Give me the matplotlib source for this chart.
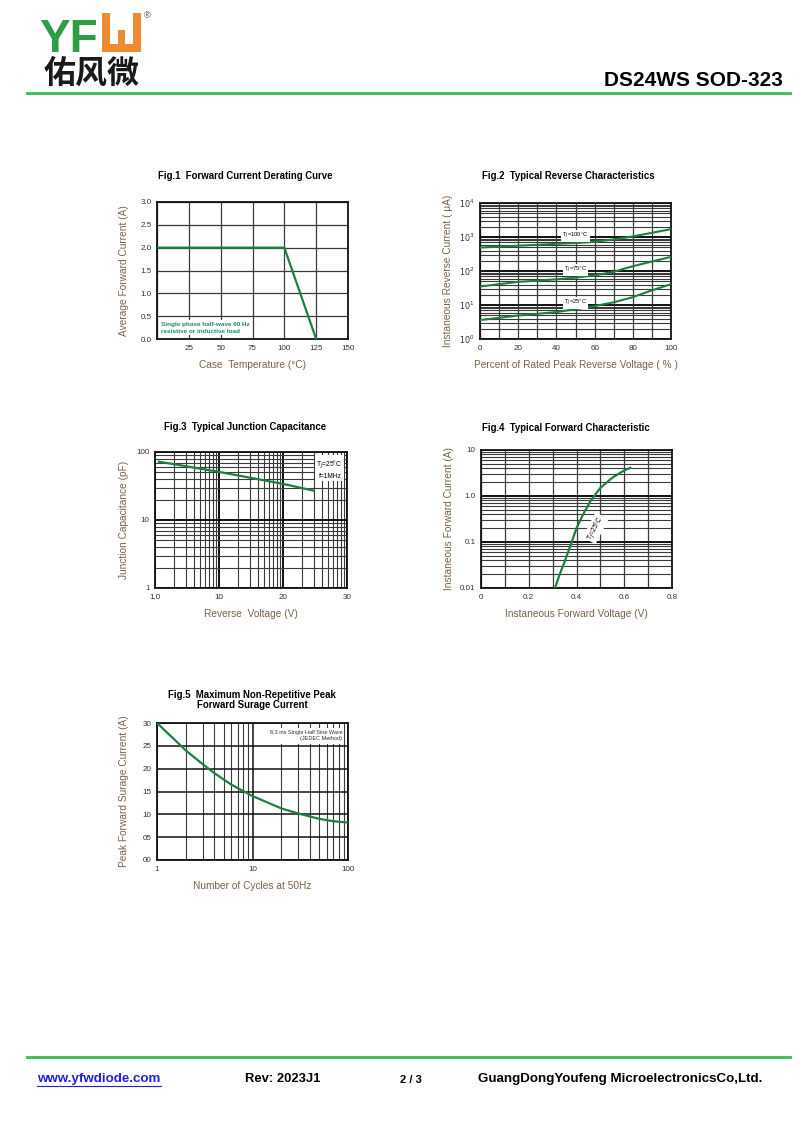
import numpy as np
import matplotlib
matplotlib.use('Agg')
import matplotlib.pyplot as plt
from matplotlib.patches import Rectangle
from matplotlib.ticker import FixedLocator, NullFormatter

plt.rcParams['font.family'] = ['Liberation Sans', 'DejaVu Sans']

GREEN = '#1d7f40'
LABEL = '#7a6248'
GRID = '#3a3a3a'

# Fig.1 data
fig1_temp = [0, 100, 125]
fig1_current = [2.0, 2.0, 0.0]

# Fig.2 data
fig2_pct = [0, 10, 20, 30, 40, 50, 60, 70, 80, 90, 100]
fig2_100c = [490, 520, 555, 590, 630, 665, 720, 850, 1040, 1330, 1700]
fig2_75c = [35, 41, 48, 52, 57, 64, 74, 95, 138, 190, 260]
fig2_25c = [3.6, 4.2, 4.9, 5.5, 6.2, 7.5, 9.3, 12, 17, 27, 41]

# Fig.3 data (x in axis units: decades labelled 1.0, 10, 20, 30)
fig3_x = [1.15, 3, 10, 30, 100, 300]
fig3_cap = [72, 62, 51, 42, 34, 27]
fig3_ticks = [1, 10, 100, 1000]
fig3_ticklabels = ['1.0', '10', '20', '30']

# Fig.4 data
fig4_v = [0.31, 0.33, 0.35, 0.38, 0.40, 0.43, 0.46, 0.50, 0.55, 0.60, 0.625]
fig4_i = [0.01, 0.02, 0.037, 0.10, 0.20, 0.42, 0.80, 1.5, 2.5, 3.6, 4.1]

# Fig.5 data
fig5_cycles = [1, 1.5, 2, 3, 4, 6, 10, 20, 30, 50, 70, 100]
fig5_current = [30, 26.5, 24, 21, 19, 16.5, 14, 11.3, 10.2, 9, 8.5, 8.2]
fig5_yticks = [0, 5, 10, 15, 20, 25, 30]
fig5_yticklabels = ['00', '05', '10', '15', '20', '25', '30']

W, H = 800, 1130
fig = plt.figure(figsize=(8, 11.3), dpi=100)


def px_axes(left, top, right, bottom):
    return fig.add_axes([left / W, 1 - bottom / H, (right - left) / W, (bottom - top) / H])


def px_rect(x0, y0, x1, y1, color):
    # rectangle given in pixel coordinates from top-left
    fig.add_artist(Rectangle((x0 / W, 1 - y1 / H), (x1 - x0) / W, (y1 - y0) / H,
                             transform=fig.transFigure, facecolor=color, edgecolor='none'))


def style(ax, xlabel, ylabel, ypad=6):
    ax.set_xlabel(xlabel, fontsize=7.3, color=LABEL, labelpad=6)
    ax.set_ylabel(ylabel, fontsize=7.3, color=LABEL, labelpad=ypad)
    ax.tick_params(labelsize=5.8, colors='#333333', length=0, pad=4)
    for s in ax.spines.values():
        s.set_linewidth(1.3)
        s.set_color('#111111')


def title(x, y, txt):
    fig.text(x / W, 1 - y / H, txt, fontsize=6.9, fontweight='bold',
             ha='center', va='center', linespacing=1.0)


# ---- header ----
fig.text(39 / W, 1 - 52 / H, 'YF', fontsize=33, fontweight='bold', color='#2c9e45',
         va='baseline', ha='left')
# stylised orange "W" of the logo
ORANGE = '#ee8a32'
px_rect(102, 13, 110, 52, ORANGE)
px_rect(133, 13, 141, 52, ORANGE)
px_rect(102, 44, 141, 52, ORANGE)
px_rect(118, 30, 125, 52, ORANGE)
fig.text(147 / W, 1 - 16 / H, '®', fontsize=6.5, color='#333333', va='center', ha='center')
fig.text(44 / W, 1 - 74 / H, '佑风微', fontsize=23, color='#1a1a1a', va='center',
         fontweight='bold', family=['Noto Sans CJK SC', 'DejaVu Sans'])
fig.text(783 / W, 1 - 80 / H, 'DS24WS SOD-323', fontsize=15, fontweight='bold',
         ha='right', va='center')
fig.add_artist(plt.Line2D([27 / W, 790 / W], [1 - 93 / H, 1 - 93 / H], color='#3cb95a', lw=2))

# ---- footer ----
fig.add_artist(plt.Line2D([27 / W, 790 / W], [1 - 1057 / H, 1 - 1057 / H], color='#3cb95a', lw=2))
fig.text(37 / W, 1 - 1079 / H, 'www.yfwdiode.com', fontsize=9.6, fontweight='bold',
         color='#2020e0', va='center')
fig.add_artist(plt.Line2D([37 / W, 161 / W], [1 - 1086 / H, 1 - 1086 / H], color='#2020e0', lw=0.8))
fig.text(245 / W, 1 - 1079 / H, 'Rev: 2023J1', fontsize=9.4, fontweight='bold', va='center')
fig.text(400 / W, 1 - 1080 / H, '2 / 3', fontsize=8, fontweight='bold', va='center')
fig.text(478 / W, 1 - 1079 / H, 'GuangDongYoufeng MicroelectronicsCo,Ltd.', fontsize=9.6,
         fontweight='bold', va='center')

# ---- Fig.1 ----
ax = px_axes(157, 202, 348, 339)
ax.plot(fig1_temp, fig1_current, color=GREEN, lw=1.6, zorder=3)
ax.set_xlim(0, 150)
ax.set_ylim(0, 3)
ax.set_xticks([0, 25, 50, 75, 100, 125, 150])
ax.set_xticklabels(['', '25', '50', '75', '100', '125', '150'])
ax.set_yticks(np.arange(0, 3.01, 0.5))
ax.set_yticklabels(['0.0', '0.5', '1.0', '1.5', '2.0', '2.5', '3.0'])
ax.grid(True, color=GRID, lw=0.9)
ax.text(3, 0.38, 'Single phase half-wave 60 Hz\nresistive or inductive load', fontsize=4.6,
        color='#1f8a6a', fontweight='bold', va='top', linespacing=1.5,
        bbox=dict(facecolor='white', edgecolor='none', pad=1), zorder=4)
style(ax, 'Case  Temperature (°C)', 'Average Forward Current (A)', ypad=8)
title(245, 176, 'Fig.1  Forward Current Derating Curve')

# ---- Fig.2 ----
ax = px_axes(480, 203, 671, 339)
ax.set_yscale('log')
ax.set_xlim(0, 100)
ax.set_ylim(1, 1e4)
for y in (fig2_100c, fig2_75c, fig2_25c):
    ax.plot(fig2_pct, y, color=GREEN, lw=1.5, zorder=3)
ax.set_xticks(range(0, 101, 20))
ax.set_xticks(range(0, 101, 10), minor=True)
ax.set_yticks([1, 10, 100, 1000, 10000])
ax.set_yticklabels(['$10^0$', '$10^1$', '$10^2$', '$10^3$', '$10^4$'])
ax.yaxis.set_minor_locator(FixedLocator([m * 10 ** d for d in range(4) for m in range(2, 10)]))
ax.yaxis.set_minor_formatter(NullFormatter())
ax.grid(True, which='major', axis='y', color='#111111', lw=1.4)
ax.grid(True, which='minor', axis='y', color=GRID, lw=0.8)
ax.grid(True, which='both', axis='x', color=GRID, lw=0.9)
ax.tick_params(which='minor', length=0)
for lab, yy in [('T$_J$=100°C', 1050), ('T$_J$=75°C', 110), ('T$_J$=25°C', 11.5)]:
    ax.text(50, yy, lab, fontsize=4.2, ha='center', va='center', zorder=4,
            bbox=dict(facecolor='white', edgecolor='none', pad=0.6))
style(ax, 'Percent of Rated Peak Reverse Voltage ( % )', 'Instaneous Reverse Current ( μA)', ypad=4)
title(568, 176, 'Fig.2  Typical Reverse Characteristics')

# ---- Fig.3 ----
ax = px_axes(155, 452, 347, 588)
ax.set_xscale('log')
ax.set_yscale('log')
ax.set_xlim(1, 1000)
ax.set_ylim(1, 100)
ax.plot(fig3_x, fig3_cap, color=GREEN, lw=1.6, zorder=3)
ax.set_xticks(fig3_ticks)
ax.set_xticklabels(fig3_ticklabels)
ax.xaxis.set_minor_locator(FixedLocator([m * 10 ** d for d in range(3) for m in range(2, 10)]))
ax.xaxis.set_minor_formatter(NullFormatter())
ax.set_yticks([1, 10, 100])
ax.set_yticklabels(['1', '10', '100'])
ax.yaxis.set_minor_locator(FixedLocator([m * 10 ** d for d in range(2) for m in range(2, 10)]))
ax.yaxis.set_minor_formatter(NullFormatter())
ax.grid(True, which='major', color='#111111', lw=1.4)
ax.grid(True, which='minor', color=GRID, lw=0.8)
ax.tick_params(which='minor', length=0)
ax.text(0.975, 0.955, 'T$_J$=25°C\nf=1MHz', transform=ax.transAxes, fontsize=4.8,
        ha='right', va='top', linespacing=1.4, zorder=4,
        bbox=dict(facecolor='white', edgecolor='none', pad=1))
style(ax, 'Reverse  Voltage (V)', 'Junction Capacitance (pF)', ypad=5)
title(245, 427, 'Fig.3  Typical Junction Capacitance')

# ---- Fig.4 ----
ax = px_axes(481, 450, 672, 588)
ax.set_yscale('log')
ax.set_xlim(0, 0.8)
ax.set_ylim(0.01, 10)
ax.plot(fig4_v, fig4_i, color=GREEN, lw=1.6, zorder=3)
ax.set_xticks([0, 0.2, 0.4, 0.6, 0.8])
ax.set_xticklabels(['0', '0.2', '0.4', '0.6', '0.8'])
ax.set_xticks(np.arange(0, 0.81, 0.1), minor=True)
ax.set_yticks([0.01, 0.1, 1, 10])
ax.set_yticklabels(['0.01', '0.1', '1.0', '10'])
ax.yaxis.set_minor_locator(FixedLocator([m * 10.0 ** d for d in range(-2, 1) for m in range(2, 10)]))
ax.yaxis.set_minor_formatter(NullFormatter())
ax.grid(True, which='major', axis='y', color='#111111', lw=1.4)
ax.grid(True, which='minor', axis='y', color=GRID, lw=0.8)
ax.grid(True, which='both', axis='x', color=GRID, lw=0.9)
ax.tick_params(which='minor', length=0)
ax.text(0.48, 0.2, 'T$_J$=25°C', fontsize=4.8, rotation=62, ha='center', va='center',
        zorder=4, bbox=dict(facecolor='white', edgecolor='none', pad=0.8))
style(ax, 'Instaneous Forward Voltage (V)', 'Instaneous Forward Current (A)', ypad=4)
title(566, 428, 'Fig.4  Typical Forward Characteristic')

# ---- Fig.5 ----
ax = px_axes(157, 723, 348, 860)
ax.set_xscale('log')
ax.set_xlim(1, 100)
ax.set_ylim(0, 30)
ax.plot(fig5_cycles, fig5_current, color=GREEN, lw=1.6, zorder=3)
ax.set_xticks([1, 10, 100])
ax.set_xticklabels(['1', '10', '100'])
ax.xaxis.set_minor_locator(FixedLocator([m * 10 ** d for d in range(2) for m in range(2, 10)]))
ax.xaxis.set_minor_formatter(NullFormatter())
ax.set_yticks(fig5_yticks)
ax.set_yticklabels(fig5_yticklabels)
ax.grid(True, which='major', color='#111111', lw=1.1)
ax.grid(True, which='minor', axis='x', color=GRID, lw=0.8)
ax.tick_params(which='minor', length=0)
ax.text(0.97, 0.95, '8.3 ms Single Half Sine Wave\n(JEDEC Method)', transform=ax.transAxes,
        fontsize=4.0, ha='right', va='top', linespacing=1.4, color='#333333', zorder=4,
        bbox=dict(facecolor='white', edgecolor='none', pad=1.5))
style(ax, 'Number of Cycles at 50Hz', 'Peak Forward Surage Current (A)', ypad=10)
title(252, 700, 'Fig.5  Maximum Non-Repetitive Peak\nForward Surage Current')

fig.savefig('out.png', dpi=100)
